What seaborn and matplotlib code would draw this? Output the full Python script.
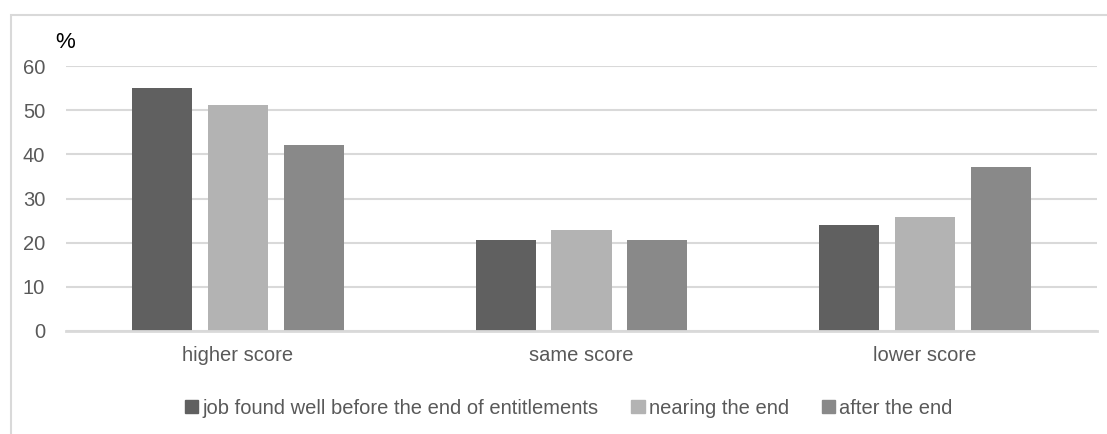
import matplotlib
matplotlib.use("Agg")
import matplotlib.pyplot as plt
import matplotlib.patches as mpatches
import seaborn as sns
import pandas as pd

categories = ["higher score", "same score", "lower score"]
series = ["job found well before the end of entitlements", "nearing the end", "after the end"]
job_found_before = [55.0, 20.7, 24.1]
nearing_end = [51.1, 22.8, 25.9]
after_end = [42.1, 20.5, 37.1]
yticks = [0, 10, 20, 30, 40, 50, 60]
colors = ["#606060", "#b3b3b3", "#898989"]

rows = []
for s, vals in zip(series, [job_found_before, nearing_end, after_end]):
    for c, v in zip(categories, vals):
        rows.append({"category": c, "series": s, "value": v})
df = pd.DataFrame(rows)

sns.set_theme(style="white")
fam = ["Liberation Sans", "DejaVu Sans"]
plt.rcParams["font.family"] = fam
txt = "#595959"
fs = 14.5

fig = plt.figure(figsize=(11.07, 4.34), dpi=100)
W, H = 1107, 434
ax = fig.add_axes([66 / W, 1 - 331 / H, (1097 - 66) / W, (331 - 66) / H])

sns.barplot(data=df, x="category", y="value", hue="series", order=categories,
            hue_order=series, palette=colors, width=0.663, gap=0.21,
            saturation=1, ax=ax, legend=False, edgecolor="none")

ax.set_ylim(0, 60)
ax.set_xlim(-0.5, 2.5)
ax.set_yticks(yticks)
ax.set_yticklabels([str(t) for t in yticks])
ax.yaxis.grid(True, color="#d9d9d9", linewidth=1.5)
ax.set_axisbelow(True)
for sp in ["top", "right", "left"]:
    ax.spines[sp].set_visible(False)
ax.spines["bottom"].set_color("#d9d9d9")
ax.spines["bottom"].set_linewidth(2)
ax.tick_params(axis="both", length=0, labelsize=fs, colors=txt)
ax.tick_params(axis="y", pad=15)
ax.tick_params(axis="x", pad=11)
ax.set_xlabel("")
ax.set_ylabel("")

fig.text(55 / W, 1 - 43 / H, "%", fontsize=16, color="#000000", va="center", ha="left")

handles = [mpatches.Patch(color=c, label=s) for c, s in zip(colors, series)]
fig.legend(handles=handles, loc="center left", bbox_to_anchor=(185 / W, 1 - 408 / H), ncol=3,
           frameon=False, fontsize=fs, handlelength=0.65, handleheight=0.65,
           handletextpad=0.2, columnspacing=1.65, labelcolor=txt,
           borderpad=0, borderaxespad=0)

frame = mpatches.Rectangle((11 / W, -0.5), 2.0, 1.5 - 15 / H, transform=fig.transFigure,
                           fill=False, edgecolor="#d9d9d9", linewidth=1.5)
fig.patches.append(frame)

fig.savefig("out.png", dpi=100)
